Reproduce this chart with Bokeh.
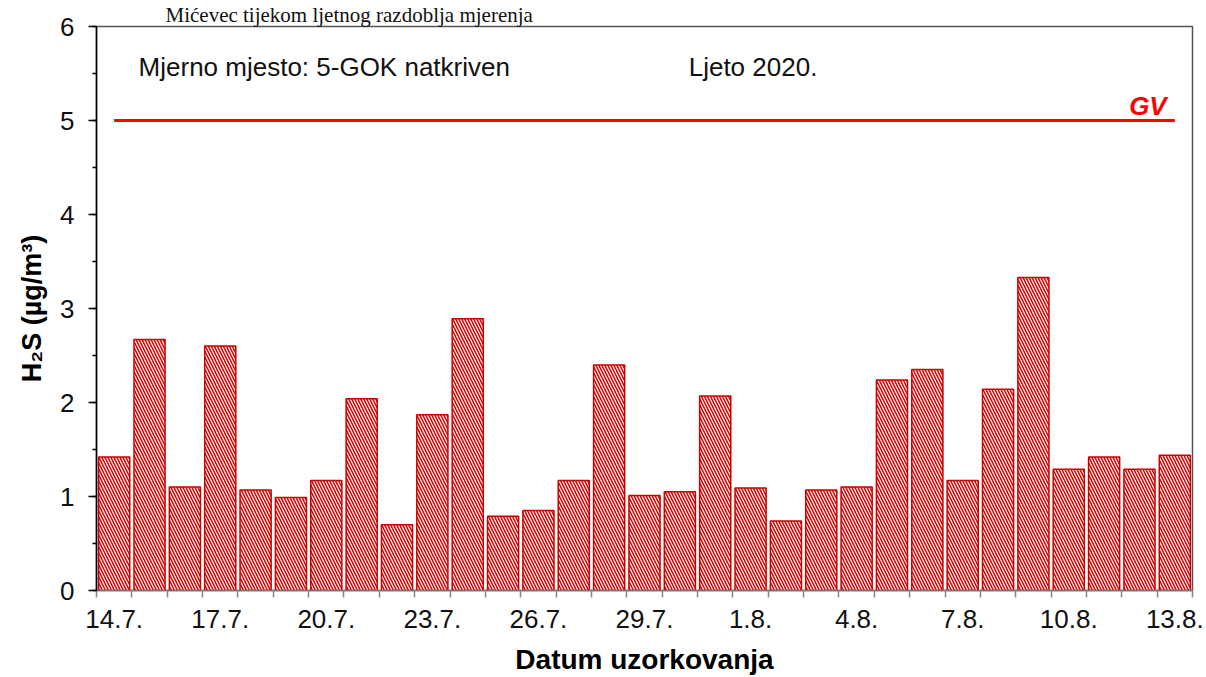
from bokeh.plotting import figure
from bokeh.models import Range1d, FixedTicker, SingleIntervalTicker, Label
from bokeh.embed import file_html
from bokeh.resources import INLINE

# ---- data ----
dates = ["14.7.", "15.7.", "16.7.", "17.7.", "18.7.", "19.7.", "20.7.", "21.7.",
         "22.7.", "23.7.", "24.7.", "25.7.", "26.7.", "27.7.", "28.7.", "29.7.",
         "30.7.", "31.7.", "1.8.", "2.8.", "3.8.", "4.8.", "5.8.", "6.8.",
         "7.8.", "8.8.", "9.8.", "10.8.", "11.8.", "12.8.", "13.8."]
h2s = [1.42, 2.67, 1.10, 2.60, 1.07, 0.99, 1.17, 2.04,
       0.70, 1.87, 2.89, 0.79, 0.85, 1.17, 2.40, 1.01,
       1.05, 2.07, 1.09, 0.74, 1.07, 1.10, 2.24, 2.35,
       1.17, 2.14, 3.33, 1.29, 1.42, 1.29, 1.44]
gv_value = 5.0
gv_label = "GV"
label_every = 3
y_max = 6
site_text = "Mjerno mjesto: 5-GOK natkriven"
season_text = "Ljeto 2020."
doc_title = "Mićevec tijekom ljetnog razdoblja mjerenja"
x_title = "Datum uzorkovanja"
y_title = "H\u2082S (\u00b5g/m\u00b3)"

n = len(h2s)
xs = list(range(n))

FONT = "Liberation Sans"
TXT = "#111111"

p = figure(width=1206, height=677, output_backend="svg", toolbar_location=None,
           x_range=Range1d(-0.5, n - 0.5), y_range=Range1d(0, y_max),
           min_border_left=96, min_border_right=14, min_border_top=24, min_border_bottom=85)
p.background_fill_color = "white"
p.border_fill_color = "white"
p.outline_line_color = "#555555"
p.outline_line_width = 1.5
p.xgrid.visible = False
p.ygrid.visible = False

# document title (cut off in the source, shown whole here)
p.title.text = doc_title
p.title.text_font = "Liberation Serif"
p.title.text_font_size = "21px"
p.title.text_font_style = "normal"
p.title.text_color = "#111111"
p.title.align = "left"
p.title.offset = 69
p.title.standoff = 0

# bars
p.vbar(x=xs, top=h2s, width=0.88, bottom=0,
       fill_color="white", line_color="#cc0000", line_width=1.5,
       hatch_pattern="\\", hatch_color="#d40000", hatch_scale=6, hatch_weight=1.5)

# limit value line
p.line(x=[xs[0], xs[-1]], y=[gv_value, gv_value], line_color="#ff0000", line_width=3)
p.add_layout(Label(x=xs[-1] - 0.23, y=gv_value + 0.155, text=gv_label, text_align="right",
                   text_baseline="alphabetic", text_color="#ff0000",
                   text_font=FONT, text_font_size="26px", text_font_style="bold italic"))

# annotations
p.add_layout(Label(x=0.69, y=5.567, text=site_text, text_font=FONT, text_font_size="26px",
                   text_color=TXT, text_baseline="alphabetic"))
p.add_layout(Label(x=16.25, y=5.567, text=season_text, text_font=FONT, text_font_size="26px",
                   text_color=TXT, text_baseline="alphabetic"))

# x axis
xa = p.xaxis[0]
xa.ticker = FixedTicker(ticks=xs[::label_every], minor_ticks=[i - 0.5 for i in range(n + 1)])
xa.major_label_overrides = {i: dates[i] for i in xs[::label_every]}
xa.major_tick_line_color = None
xa.minor_tick_line_color = "#888888"
xa.minor_tick_line_width = 1.5
xa.minor_tick_out = 7
xa.minor_tick_in = 0
xa.axis_line_color = "#777777"
xa.axis_line_width = 1.5
xa.major_label_text_font = FONT
xa.major_label_text_font_size = "26px"
xa.major_label_text_color = TXT
xa.major_label_standoff = 12
xa.axis_label = x_title
xa.axis_label_text_font = FONT
xa.axis_label_text_font_size = "28px"
xa.axis_label_text_font_style = "bold"
xa.axis_label_text_color = "#000000"
xa.axis_label_standoff = 13

# y axis
ya = p.yaxis[0]
ya.ticker = SingleIntervalTicker(interval=1, num_minor_ticks=2)
ya.axis_line_color = "#000000"
ya.axis_line_width = 1.5
ya.major_tick_line_color = "#000000"
ya.major_tick_line_width = 1.5
ya.major_tick_out = 8
ya.major_tick_in = 0
ya.minor_tick_line_color = "#000000"
ya.minor_tick_line_width = 1.5
ya.minor_tick_out = 4
ya.minor_tick_in = 0
ya.major_label_text_font = FONT
ya.major_label_text_font_size = "26px"
ya.major_label_text_color = TXT
ya.major_label_standoff = 14
ya.axis_label = y_title
ya.axis_label_text_font = FONT
ya.axis_label_text_font_size = "27px"
ya.axis_label_text_font_style = "bold"
ya.axis_label_text_color = "#000000"
ya.axis_label_standoff = 10

open("out.html", "w").write(file_html(p, INLINE))
